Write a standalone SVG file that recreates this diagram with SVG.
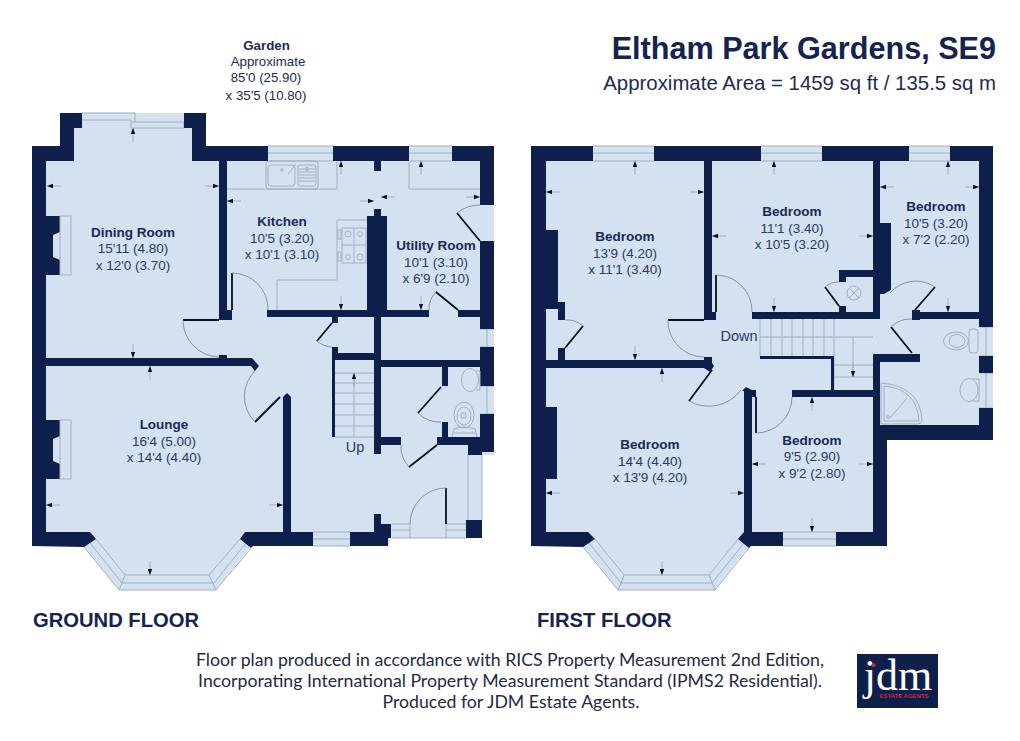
<svg xmlns="http://www.w3.org/2000/svg" width="1020" height="741" viewBox="0 0 1020 741">
<style>
.floor{fill:#d4e1f0;stroke:none}
.wall{fill:#0f1f4c;stroke:none}
.g{fill:none;stroke:#a3afbd;stroke-width:1}
.arc{fill:none;stroke:#7d8a9c;stroke-width:.9}
.leaf{fill:none;stroke:#0a0f26;stroke-width:1.8}
text{font-family:"Liberation Sans",Arial,sans-serif;fill:#2b3a5e;text-anchor:middle}
.rm{font-size:13.5px}
.rb{font-size:13.5px;font-weight:bold;fill:#1b2a55}
.fl{font-size:20.2px;font-weight:bold;fill:#14234f;text-anchor:start}
.ft{font-family:"Lato","Open Sans",sans-serif;font-size:17.7px;fill:#1e2a44}
.gd{font-size:13.3px;fill:#1c2b52}
</style>
<defs>
<g id="ar"><path d="M0 0H14" stroke="#a3afbd" stroke-width="1" fill="none"/><path d="M0 0L6 -2.2V2.2Z" fill="#0a0f26"/></g>
<g id="fp"><path d="M46 0H60V16L53 19V41L60 44V59H46Z" class="wall"/><rect x="60" y="0" width="11" height="59" class="g"/></g>
</defs>
<rect width="1020" height="741" fill="#fff"/>

<g id="ground-floor">
<path class="floor" d="M32 146H60V113H206V146H494V455H482V538H391L388 546H251L216 590H119L84 546H32Z"/>
<g class="g">
<path d="M82 113H135M82 120H131M131 122H184M131 128H184V122M131 120V128M135 113V122"/>
<path d="M268 146H333M268 153H333M268 161H333M409 146H452M409 153H452M409 161H452"/>
<path d="M480 329H494M480 347H494M487 329V347M480 386H494M480 414H494M487 386V414"/>
<path d="M313 532H350M313 539H350M313 546H350"/>
<path d="M84 547L119 590H216L251 548M96 539L125 575H209L240 539M90 543L122 583H214L246 543M122 583L119 590M125 575L122 583M209 575L216 590"/>
<path d="M468 455V520M482 455V520M392 524H410M392 530H410M392 538H466M446 524H466M446 530H466M410 524V538M446 524V538"/>
<path d="M227 189H337V161M409 161V189H480"/>
<path d="M337 220H367M337 220V280H277V310"/>
<path d="M335 373H374M335 383H374M335 393H374M335 404H374M335 415H374M335 426H374M335 437H374M354 373V437"/>
</g>
<g class="wall">
<rect x="32" y="146" width="14" height="400"/>
<rect x="32" y="146" width="42" height="15"/><rect x="60" y="113" width="14" height="48"/><rect x="60" y="113" width="22" height="15"/>
<rect x="192" y="113" width="14" height="48"/><rect x="184" y="113" width="22" height="15"/><rect x="192" y="146" width="76" height="15"/>
<rect x="219" y="161" width="8" height="159"/><rect x="219" y="310" width="13" height="10"/><rect x="219" y="355" width="8" height="3"/>
<path d="M46 358H252L259 366L255 371L251 366H46Z"/>
<path d="M32 532H90L96 539L84 547L32 546Z"/>
<path d="M240 539L245 532H313V546H253L251 548Z"/>
<path d="M283 397L287 393L291 397V532H283Z"/>
<path d="M350 532H374V514H381V524H391V538H388V546H350Z"/>
<rect x="333" y="146" width="76" height="15"/><rect x="374" y="161" width="7" height="10"/>
<rect x="452" y="146" width="42" height="15"/>
<rect x="480" y="146" width="14" height="59"/><rect x="480" y="241" width="14" height="88"/><rect x="480" y="347" width="14" height="39"/><rect x="480" y="414" width="14" height="38"/>
<rect x="267" y="310" width="162" height="7"/><rect x="458" y="310" width="22" height="7"/>
<rect x="367" y="216" width="20" height="94"/><rect x="374" y="209" width="7" height="7"/>
<rect x="374" y="317" width="7" height="137"/>
<rect x="332" y="317" width="6" height="6"/><rect x="332" y="347" width="6" height="13"/><rect x="338" y="353" width="36" height="7"/><rect x="332" y="360" width="3" height="77"/>
<rect x="381" y="360" width="99" height="7"/>
<rect x="442" y="367" width="6" height="19"/><rect x="442" y="422" width="6" height="15"/>
<rect x="437" y="437" width="45" height="8"/><rect x="381" y="437" width="20" height="8"/>
<rect x="468" y="437" width="14" height="18"/>
<rect x="466" y="520" width="16" height="18"/>
</g>
<use href="#fp" y="216"/>
<use href="#fp" y="420"/>
<g class="leaf">
<path d="M183 320H219M232 273V310M332 323L317 341M255 422L280 397M480 241L457 213M458 310L436 292M441 387L418 413M437 445L409 467M446 488V524"/>
</g>
<g class="arc">
<path d="M183 320A37 37 0 0 0 219 357M232 273A36 36 0 0 1 268 310M317 341A24 24 0 0 0 332 347M255 422A36 36 0 0 1 256 370M457 213A36 36 0 0 1 480 205M436 292A24 24 0 0 0 429 310M418 413A30 30 0 0 0 441 422M409 467A30 30 0 0 1 401 445M446 488A36 36 0 0 0 410 524"/>
</g>
<g id="sink" class="g">
<rect x="266" y="161" width="52" height="28" rx="3"/><rect x="268" y="165" width="27" height="21" rx="3"/><rect x="298" y="165" width="18" height="21" rx="2"/>
<path d="M299 169H315M299 172H315M299 175H315M299 178H315M299 181H315M288 174L296 164"/><circle cx="282" cy="170" r="1.3"/><circle cx="307" cy="169" r="1.5"/>
</g>
<g id="hob" class="g">
<rect x="342" y="228" width="24" height="35"/><path d="M354 228V263M342 245H366"/>
<circle cx="348" cy="234" r="3"/><circle cx="360" cy="234" r="2.4"/><circle cx="348" cy="257" r="2.4"/><circle cx="360" cy="257" r="3"/>
<rect x="338" y="230" width="3" height="9"/><rect x="338" y="252" width="3" height="9"/>
</g>
<g id="wc-gf" class="g">
<ellipse cx="470" cy="380" rx="8.500" ry="11.500"/><path d="M476 371H480V390H476"/>
<ellipse cx="464" cy="415" rx="10" ry="13"/><ellipse cx="464" cy="416" rx="7" ry="9"/><rect x="461" y="413" width="5" height="5" rx="1"/><path d="M452 437L454 429Q464 425 475 429L477 437M454 433H475"/>
</g>
</g>

<g id="first-floor">
<path class="floor" d="M531 146H993V440H887V546H749L715 590H618L583 546H531Z"/>
<g class="g">
<path d="M593 146H654M593 153H654M593 161H654M761 146H822M761 153H822M761 161H822M909 146H950M909 153H950M909 161H950"/>
<path d="M979 327H993M979 356H993M986 327V356M979 373H993M979 408H993M986 373V408"/>
<path d="M783 532H836M783 539H836M783 546H836"/>
<path d="M583 547L618 590H715L749 548M595 539L624 575H709L738 539M589 543L621 583H712L744 543M621 583L618 590M624 575L621 583M709 575L715 590"/>
<path d="M760 319V356M771 319V356M782 319V356M792 319V356M803 319V356M813 319V356M824 319V356M834 319V390M760 337H873M834 365H873M834 377H873M853 337V377"/>
<path d="M881 383V424H918Q922 424 922 420Q920 386 881 383Z"/>
<path d="M884 386V421H919Q917 389 884 386Z"/>
<path d="M890 418L907 398"/><circle cx="888" cy="417" r="1.300"/>
<circle cx="854" cy="293" r="7"/><path d="M849 288L859 298M849 298L859 288"/>
</g>
<g class="wall">
<rect x="531" y="146" width="15" height="400"/>
<rect x="531" y="146" width="62" height="15"/><rect x="654" y="146" width="107" height="15"/><rect x="822" y="146" width="87" height="15"/><rect x="950" y="146" width="43" height="15"/>
<rect x="979" y="146" width="14" height="181"/><rect x="979" y="356" width="14" height="17"/><rect x="979" y="408" width="14" height="32"/>
<rect x="873" y="425" width="120" height="15"/><rect x="873" y="425" width="14" height="121"/><rect x="873" y="354" width="7" height="71"/>
<rect x="704" y="161" width="8" height="159"/><rect x="704" y="312" width="12" height="8"/>
<rect x="546" y="230" width="12" height="79"/><rect x="558" y="302" width="7" height="18"/><rect x="558" y="348" width="7" height="13"/>
<path d="M546 360H704V357H712V363L714 366L710 372L704 368H546Z"/>
<rect x="873" y="161" width="7" height="151"/><rect x="752" y="312" width="128" height="7"/>
<path d="M880 223H891V290L884 294H880Z"/>
<rect x="839" y="270" width="34" height="7"/><rect x="839" y="277" width="7" height="5"/><rect x="839" y="306" width="7" height="6"/>
<rect x="913" y="312" width="66" height="7"/><rect x="912" y="310" width="8" height="10"/>
<rect x="873" y="354" width="47" height="8"/>
<rect x="760" y="356" width="74" height="3"/><rect x="831" y="356" width="3" height="34"/><rect x="792" y="390" width="81" height="7"/>
<path d="M742 391L746 387L752 390H756V397H752V532H744V391Z"/>
<path d="M738 539L744 532H783V546H751L749 548Z"/>
<path d="M531 532H588L595 539L583 547L531 546Z"/>
<rect x="836" y="532" width="51" height="14"/>
<rect x="546" y="407" width="11" height="72"/>
</g>
<g class="leaf">
<path d="M668 320H704M716 275V312M565 348L583 326M839 306L825 287M915 310L935 287M912 353L891 327M756 397V433M712 370L689 401"/>
</g>
<g class="arc">
<path d="M668 320A36 36 0 0 0 704 357M716 275A36 36 0 0 1 752 312M583 326A24 24 0 0 0 565 320M825 287A20 20 0 0 1 839 282M935 287A34 34 0 0 0 890 293M891 327A28 28 0 0 1 912 319M756 433A36 36 0 0 0 792 397M689 401A40 40 0 0 0 741 390"/>
</g>
<g id="wc-ff" class="g">
<ellipse cx="956" cy="341" rx="12.500" ry="9"/><ellipse cx="957" cy="341" rx="8" ry="6.500"/><rect x="969" y="329" width="9" height="24" rx="3"/>
<ellipse cx="969" cy="390" rx="9" ry="11.500"/><path d="M973 379H979V401H973"/>
</g>
</g>

<g id="dimension-arrows">
<use href="#ar" transform="translate(47 186)"/><use href="#ar" transform="translate(219 186) rotate(180)"/><use href="#ar" transform="translate(133 128) rotate(90)"/><use href="#ar" transform="translate(133 358) rotate(-90)"/>
<use href="#ar" transform="translate(150 366) rotate(90)"/><use href="#ar" transform="translate(46 505)"/><use href="#ar" transform="translate(283 505) rotate(180)"/><use href="#ar" transform="translate(150 575) rotate(-90)"/>
<use href="#ar" transform="translate(227 201)"/><use href="#ar" transform="translate(374 201) rotate(180)"/><use href="#ar" transform="translate(341 161) rotate(90)"/><use href="#ar" transform="translate(341 310) rotate(-90)"/>
<use href="#ar" transform="translate(381 197)"/><use href="#ar" transform="translate(480 197) rotate(180)"/><use href="#ar" transform="translate(421 161) rotate(90)"/><use href="#ar" transform="translate(421 310) rotate(-90)"/>
<use href="#ar" transform="translate(354 373) rotate(90)"/>
<use href="#ar" transform="translate(546 192)"/><use href="#ar" transform="translate(704 192) rotate(180)"/><use href="#ar" transform="translate(635 161) rotate(90)"/><use href="#ar" transform="translate(635 360) rotate(-90)"/>
<use href="#ar" transform="translate(712 236)"/><use href="#ar" transform="translate(873 236) rotate(180)"/><use href="#ar" transform="translate(774 161) rotate(90)"/><use href="#ar" transform="translate(774 312) rotate(-90)"/>
<use href="#ar" transform="translate(880 187)"/><use href="#ar" transform="translate(979 187) rotate(180)"/><use href="#ar" transform="translate(948 161) rotate(90)"/><use href="#ar" transform="translate(948 312) rotate(-90)"/>
<use href="#ar" transform="translate(662 368) rotate(90)"/><use href="#ar" transform="translate(546 493)"/><use href="#ar" transform="translate(744 493) rotate(180)"/><use href="#ar" transform="translate(662 575) rotate(-90)"/>
<use href="#ar" transform="translate(812 397) rotate(90)"/><use href="#ar" transform="translate(752 464)"/><use href="#ar" transform="translate(873 464) rotate(180)"/><use href="#ar" transform="translate(812 532) rotate(-90)"/>
<use href="#ar" transform="translate(853 377) rotate(-90)"/>
</g>

<g id="labels">
<text class="rb" x="133" y="237">Dining Room</text><text class="rm" x="133" y="253">15'11 (4.80)</text><text class="rm" x="133" y="270">x 12'0 (3.70)</text>
<text class="rb" x="282" y="226">Kitchen</text><text class="rm" x="282" y="243">10'5 (3.20)</text><text class="rm" x="282" y="259">x 10'1 (3.10)</text>
<text class="rb" x="436" y="250">Utility Room</text><text class="rm" x="436" y="267">10'1 (3.10)</text><text class="rm" x="436" y="283">x 6'9 (2.10)</text>
<text class="rb" x="164" y="429">Lounge</text><text class="rm" x="164" y="446">16'4 (5.00)</text><text class="rm" x="164" y="462">x 14'4 (4.40)</text>
<text class="rm" x="355" y="452" style="font-size:14.500px">Up</text>
<text class="rb" x="625" y="241">Bedroom</text><text class="rm" x="625" y="258">13'9 (4.20)</text><text class="rm" x="625" y="274">x 11'1 (3.40)</text>
<text class="rb" x="792" y="216">Bedroom</text><text class="rm" x="792" y="233">11'1 (3.40)</text><text class="rm" x="792" y="249">x 10'5 (3.20)</text>
<text class="rb" x="936" y="211">Bedroom</text><text class="rm" x="936" y="228">10'5 (3.20)</text><text class="rm" x="936" y="244">x 7'2 (2.20)</text>
<text class="rb" x="650" y="449">Bedroom</text><text class="rm" x="650" y="466">14'4 (4.40)</text><text class="rm" x="650" y="482">x 13'9 (4.20)</text>
<text class="rb" x="812" y="445">Bedroom</text><text class="rm" x="812" y="461">9'5 (2.90)</text><text class="rm" x="812" y="478">x 9'2 (2.80)</text>
<text class="rm" x="739" y="341" style="font-size:14.500px">Down</text>
<text class="gd" x="266.500" y="50" font-weight="bold">Garden</text><text class="gd" x="268" y="66">Approximate</text><text class="gd" x="266" y="82">85'0 (25.90)</text><text class="gd" x="266" y="100">x 35'5 (10.80)</text>
<text x="996" y="59" style="font-size:30.600px;font-weight:bold;text-anchor:end;fill:#14234f">Eltham Park Gardens, SE9</text>
<text x="996" y="90" style="font-size:20.400px;text-anchor:end;fill:#1c2b52">Approximate Area = 1459 sq ft / 135.5 sq m</text>
<text class="fl" x="33" y="627">GROUND FLOOR</text>
<text class="fl" x="537" y="627">FIRST FLOOR</text>
<text class="ft" x="510" y="666">Floor plan produced in accordance with RICS Property Measurement 2nd Edition,</text>
<text class="ft" x="510" y="687">Incorporating International Property Measurement Standard (IPMS2 Residential).</text>
<text class="ft" x="511" y="708">Produced for JDM Estate Agents.</text>
</g>

<g id="logo">
<rect x="857" y="654" width="81" height="54" fill="#0f1f4c"/>
<text x="898" y="690" style="font-family:'Liberation Serif',serif;font-size:44px;fill:#fff">jdm</text>
<circle cx="873.500" cy="665" r="2" fill="#c8264a"/>
<text x="904" y="698" style="font-size:6px;font-weight:bold;fill:#c8264a">ESTATE AGENTS</text>
</g>
</svg>
